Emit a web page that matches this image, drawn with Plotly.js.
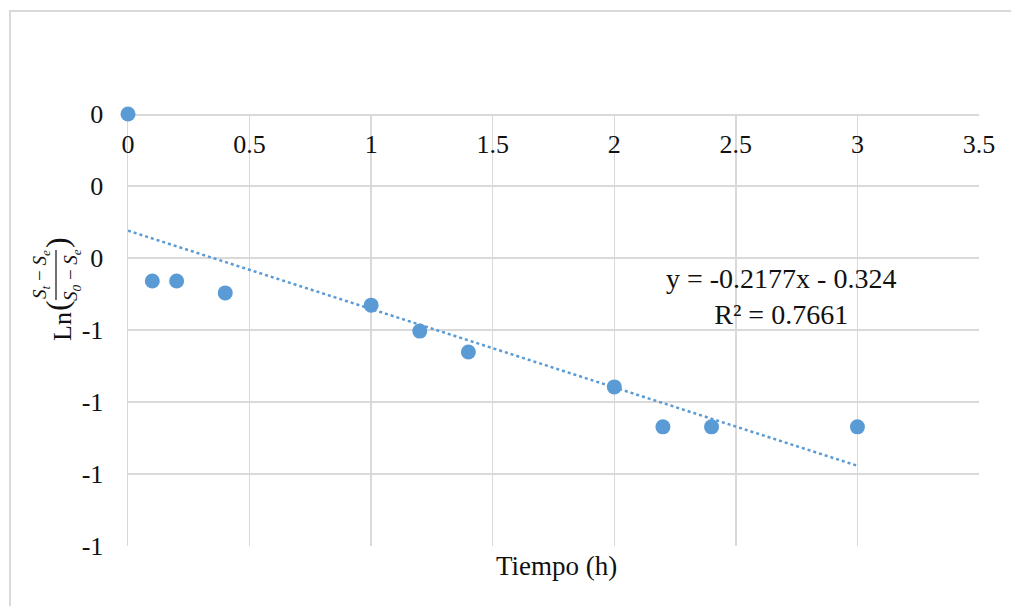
<!DOCTYPE html>
<html>
<head>
<meta charset="utf-8">
<script src="https://cdn.plot.ly/plotly-3.0.1.min.js"></script>
<style>
  html, body { margin: 0; padding: 0; background: #fff; overflow: hidden; }
  #chart { width: 1011px; height: 606px; }
  #frame { position: absolute; left: 9px; top: 10px; width: 1100px; height: 700px;
           border-left: 2px solid #d9d9d9; border-top: 2px solid #d9d9d9; pointer-events: none; }
</style>
</head>
<body>
<div id="chart"></div>
<div id="frame"></div>
<script>
// Data
const tiempo = [0, 0.1, 0.2, 0.4, 1.0, 1.2, 1.4, 2.0, 2.2, 2.4, 3.0];
const lnRatio = [0, -0.464, -0.464, -0.497, -0.531, -0.603, -0.661, -0.758, -0.869, -0.869, -0.869];
const trendSlope = -0.2177;
const trendIntercept = -0.324;
const trendR2 = 0.7661;
const xTickVals = [0, 0.5, 1, 1.5, 2, 2.5, 3, 3.5];
const yTickVals = [0, -0.2, -0.4, -0.6, -0.8, -1.0, -1.2];
const yTickText = ["0", "0", "0", "-1", "-1", "-1", "-1"];

const blue = '#5B9BD5';
const grid = '#d9d9d9';
const font = 'Liberation Serif';
const txt = '#111';

const xMin = Math.min(...tiempo), xMax = Math.max(...tiempo);
const trendX = [xMin, xMax];
const trendY = trendX.map(x => trendSlope * x + trendIntercept);

const traces = [
  {
    x: trendX, y: trendY, type: 'scatter', mode: 'lines',
    line: { color: blue, width: 2.5, dash: 'dot' },
    hoverinfo: 'skip', cliponaxis: false
  },
  {
    x: tiempo, y: lnRatio, type: 'scatter', mode: 'markers',
    marker: { color: blue, size: 15, line: { width: 0 } },
    cliponaxis: false
  }
];

// helper: pixel -> paper coords for the y-axis title pieces
const L = 128, R = 979, T = 114, B = 546;
const px = p => (p - L) / (R - L);
const py = p => (B - p) / (B - T);

const layout = {
  width: 1011, height: 606,
  margin: { l: L, r: 1011 - R, t: T, b: 606 - B },
  paper_bgcolor: '#fff', plot_bgcolor: '#fff',
  showlegend: false,
  font: { family: font, size: 26, color: txt },
  xaxis: {
    range: [0, 3.5], tickvals: xTickVals, anchor: 'free', position: 1, side: 'bottom',
    showgrid: true, gridcolor: grid, gridwidth: 1.5,
    showline: true, linecolor: grid, linewidth: 1.5, layer: 'below traces',
    zeroline: false, ticks: '', ticklabelstandoff: 6,
    tickfont: { family: font, size: 26, color: txt }
  },
  yaxis: {
    range: [-1.2, 0], tickvals: yTickVals, ticktext: yTickText,
    showgrid: true, gridcolor: grid, gridwidth: 1.5,
    showline: true, linecolor: grid, linewidth: 1.5, layer: 'below traces',
    zeroline: false, ticks: '', ticklabelstandoff: 18,
    tickfont: { family: font, size: 26, color: txt }
  },
  shapes: [
    { type: 'line', xref: 'paper', yref: 'paper', x0: px(56), x1: px(56), y0: py(250), y1: py(300),
      line: { color: txt, width: 1.2 } }
  ],
  annotations: [
    { xref: 'x', yref: 'y', x: 2.686, y: -0.506, showarrow: false, align: 'center',
      xanchor: 'center', yanchor: 'middle',
      text: 'y = ' + trendSlope + 'x - ' + Math.abs(trendIntercept) + '<br>R² = ' + trendR2,
      font: { family: font, size: 28, color: txt } },
    { xref: 'paper', yref: 'paper', x: px(556), y: py(566), showarrow: false,
      xanchor: 'center', yanchor: 'middle', text: 'Tiempo (h)',
      font: { family: font, size: 27, color: txt } },
    { xref: 'paper', yref: 'paper', x: px(62), y: py(327), showarrow: false, textangle: -90,
      xanchor: 'center', yanchor: 'middle', text: 'Ln',
      font: { family: font, size: 26, color: txt } },
    { xref: 'paper', yref: 'paper', x: px(57), y: py(306), showarrow: false, textangle: -90,
      xanchor: 'center', yanchor: 'middle', text: '(',
      font: { family: font, size: 32, color: txt } },
    { xref: 'paper', yref: 'paper', x: px(57), y: py(243), showarrow: false, textangle: -90,
      xanchor: 'center', yanchor: 'middle', text: ')',
      font: { family: font, size: 32, color: txt } },
    { xref: 'paper', yref: 'paper', x: px(41), y: py(275), showarrow: false, textangle: -90,
      xanchor: 'center', yanchor: 'middle', text: '<i>S<sub>t</sub></i> − <i>S<sub>e</sub></i>',
      font: { family: font, size: 19, color: txt } },
    { xref: 'paper', yref: 'paper', x: px(72), y: py(275), showarrow: false, textangle: -90,
      xanchor: 'center', yanchor: 'middle', text: '<i>S<sub>0</sub></i> − <i>S<sub>e</sub></i>',
      font: { family: font, size: 19, color: txt } }
  ]
};

Plotly.newPlot('chart', traces, layout, { displayModeBar: false, staticPlot: true });
</script>
</body>
</html>
